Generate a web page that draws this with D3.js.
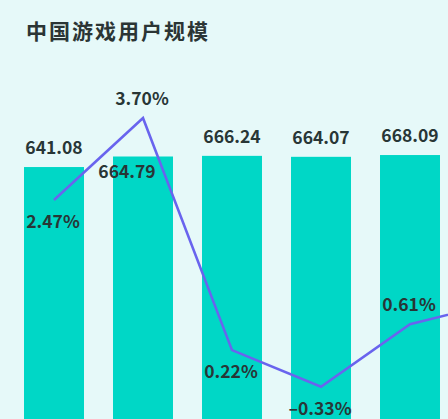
<!DOCTYPE html>
<html>
<head>
<meta charset="utf-8">
<script src="https://cdn.jsdelivr.net/npm/d3@7"></script>
<style>
  html, body { margin: 0; padding: 0; background: #e6f9f9; overflow: hidden; }
  svg { display: block; }
  text { font-family: "Noto Sans CJK SC", "Noto Sans", sans-serif; fill: #283636; }
</style>
</head>
<body>
<svg id="chart"></svg>
<script>
//------------------------------------------------------------
// Data (last year runs past the right edge of the crop)
const years = ["2019", "2020", "2021", "2022", "2023", "2024"];
const users = [641.08, 664.79, 666.24, 664.07, 668.09, 674.62];   // 百万人
const growth = [2.47, 3.70, 0.22, -0.33, 0.61, 0.94];              // %

// label side for each point
const userLabelSide = ["above", "inside", "above", "above", "above", "above"];
const growthLabelSide = ["below", "above", "below", "below", "above", "above"];

//------------------------------------------------------------
// Chart setup
const width = 448, height = 419;

const svg = d3.select("#chart")
  .attr("width", width)
  .attr("height", height);

const x = d3.scaleBand()
  .domain(years)
  .range([9.5, 543.5])
  .paddingInner(0.326)
  .paddingOuter(0.163);

const cx = d => x(d) + x.bandwidth() / 2;

const y = d3.scaleLinear().domain([0, 700]).range([452, 140.85]);
const y2 = d3.scaleLinear().domain([-1, 4]).range([431.5, 98]);

// only label what falls inside the crop
const visible = years.filter(d => cx(d) < width);

// Title
svg.append("text")
  .attr("x", 26)
  .attr("y", 39)
  .style("font-size", "21px")
  .style("font-weight", "bold")
  .style("letter-spacing", "2px")
  .style("fill", "#2b3535")
  .text("中国游戏用户规模");

//------------------------------------------------------------
// Bars
svg.selectAll("rect.bar")
  .data(years)
  .join("rect")
  .attr("class", "bar")
  .attr("x", d => x(d))
  .attr("y", (d, i) => y(users[i]))
  .attr("width", x.bandwidth())
  .attr("height", (d, i) => y(0) - y(users[i]))
  .attr("fill", "#00d7c6");

// Bar value labels
svg.selectAll("text.val")
  .data(visible)
  .join("text")
  .attr("class", "val")
  .attr("x", (d, i) => cx(d) + (userLabelSide[i] === "inside" ? -16 : 0))
  .attr("y", (d, i) => y(users[i]) + (userLabelSide[i] === "inside" ? 21 : -13))
  .attr("text-anchor", "middle")
  .style("font-size", "17.5px")
  .style("font-weight", "bold")
  .text((d, i) => users[i].toFixed(2));

//------------------------------------------------------------
// Growth line
const line = d3.line()
  .x((d, i) => cx(years[i]))
  .y(d => y2(d));

svg.append("path")
  .datum(growth)
  .attr("fill", "none")
  .attr("stroke", "#6964ee")
  .attr("stroke-width", 2.6)
  .attr("d", line);

svg.selectAll("text.pct")
  .data(visible)
  .join("text")
  .attr("class", "pct")
  .attr("x", d => cx(d) - 1)
  .attr("y", (d, i) => y2(growth[i]) + (growthLabelSide[i] === "below" ? 28 : -13))
  .attr("text-anchor", "middle")
  .style("font-size", "17.5px")
  .style("font-weight", "bold")
  .text((d, i) => {
    const v = growth[i];
    return (v < 0 ? "–" + Math.abs(v).toFixed(2) : v.toFixed(2)) + "%";
  });
</script>
</body>
</html>
